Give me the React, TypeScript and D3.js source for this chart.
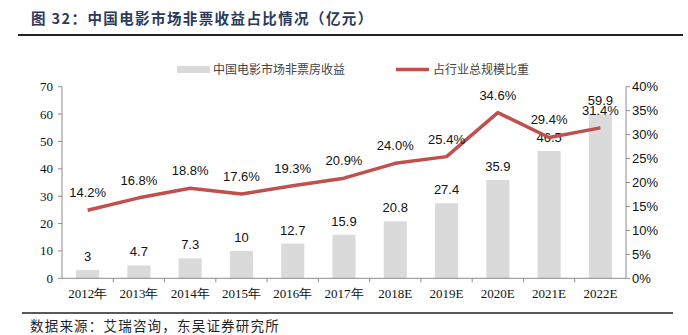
import React from "react";
import * as d3 from "d3";

const categories = ["2012年", "2013年", "2014年", "2015年", "2016年", "2017年", "2018E", "2019E", "2020E", "2021E", "2022E"];
const revenue = [3, 4.7, 7.3, 10, 12.7, 15.9, 20.8, 27.4, 35.9, 46.5, 59.9];
const share = [14.2, 16.8, 18.8, 17.6, 19.3, 20.9, 24.0, 25.4, 34.6, 29.4, 31.4];
const leftTicks = [0, 10, 20, 30, 40, 50, 60, 70];
const rightTicks = [0, 5, 10, 15, 20, 25, 30, 35, 40];
const title = "图 32：中国电影市场非票收益占比情况（亿元）";
const seriesNames = ["中国电影市场非票房收益", "占行业总规模比重"];
const source = "数据来源：艾瑞咨询，东吴证券研究所";

const W = 688, H = 335;
const left = 62, right = 626, top = 86.7, bottom = 278.3;
const serif = "'Liberation Serif', 'Times New Roman', serif";
const sans = "'Liberation Sans', Arial, sans-serif";
const cjk = "'Noto Sans CJK SC', sans-serif";
const axisColor = "#8c8c8c";
const barColor = "#DADADA";
const lineColor = "#C0504D";

export default function App() {
  const x = d3.scaleBand<string>().domain(categories).range([left, right]).paddingInner(0.55).paddingOuter(0.275);
  const xOuter = d3.scaleBand<string>().domain(categories).range([left, right]);
  const yL = d3.scaleLinear().domain([0, 70]).range([bottom, top]);
  const yR = d3.scaleLinear().domain([0, 40]).range([bottom, top]);
  const cx = (c: string) => (xOuter(c) as number) + xOuter.bandwidth() / 2;
  const line = d3.line<number>().x((_, i) => cx(categories[i])).y((d) => yR(d));

  return (
    <svg width={W} height={H} style={{ position: "absolute", left: 0, top: 0, background: "#fff" }}>
      <rect x={0} y={0} width={W} height={H} fill="#fff" />
      <text x={31} y={24} fontFamily={cjk} fontWeight="bold" fontSize={14.5} letterSpacing={1.4} fill="#2B3A5C">{title}</text>
      <line x1={18} x2={683} y1={35} y2={35} stroke="#222" strokeWidth={2} />

      {/* legend */}
      <rect x={177} y={66} width={33} height={7} fill={barColor} />
      <text x={213} y={74} fontFamily={cjk} fontSize={12} fill="#444">{seriesNames[0]}</text>
      <line x1={396} x2={429} y1={69.5} y2={69.5} stroke={lineColor} strokeWidth={3.5} />
      <text x={433} y={74} fontFamily={cjk} fontSize={12} fill="#444">{seriesNames[1]}</text>

      {/* bars */}
      {revenue.map((v, i) => (
        <rect key={i} x={x(categories[i])} y={yL(v)} width={x.bandwidth()} height={bottom - yL(v)} fill={barColor} />
      ))}
      {revenue.map((v, i) => (
        <text key={i} x={cx(categories[i])} y={yL(v) - 9} textAnchor="middle" fontFamily={sans} fontSize={13} fill="#111">{String(v)}</text>
      ))}

      {/* line */}
      <path d={line(share) as string} fill="none" stroke={lineColor} strokeWidth={3.5} strokeLinejoin="round" />
      {share.map((v, i) => (
        <text key={i} x={cx(categories[i])} y={yR(v) - 13} textAnchor="middle" fontFamily={sans} fontSize={13} fill="#111">{v.toFixed(1) + "%"}</text>
      ))}

      {/* left axis */}
      <line x1={left} x2={left} y1={top} y2={bottom} stroke={axisColor} />
      {leftTicks.map((t) => (
        <g key={t}>
          <line x1={left - 4} x2={left} y1={yL(t)} y2={yL(t)} stroke={axisColor} />
          <text x={left - 9} y={yL(t) + 4.5} textAnchor="end" fontFamily={serif} fontSize={13} fill="#111">{t}</text>
        </g>
      ))}
      {/* right axis */}
      <line x1={right} x2={right} y1={top} y2={bottom} stroke={axisColor} />
      {rightTicks.map((t) => (
        <g key={t}>
          <line x1={right} x2={right + 4} y1={yR(t)} y2={yR(t)} stroke={axisColor} />
          <text x={right + 6} y={yR(t) + 4.5} textAnchor="start" fontFamily={sans} fontSize={13} fill="#111">{t + "%"}</text>
        </g>
      ))}
      {/* x axis */}
      <line x1={left} x2={right} y1={bottom} y2={bottom} stroke={axisColor} />
      {categories.map((c, i) => (
        <g key={c}>
          {i > 0 && <line x1={xOuter(c)} x2={xOuter(c)} y1={bottom} y2={bottom + 4} stroke={axisColor} />}
          <text x={cx(c)} y={bottom + 20} textAnchor="middle" fontFamily={serif} fontSize={13} fill="#111">{c}</text>
        </g>
      ))}

      <line x1={22} x2={673} y1={313} y2={313} stroke="#222" strokeWidth={1.5} />
      <text x={30} y={331} fontFamily={cjk} fontSize={13.5} letterSpacing={1.2} fill="#222">{source}</text>
    </svg>
  );
}
